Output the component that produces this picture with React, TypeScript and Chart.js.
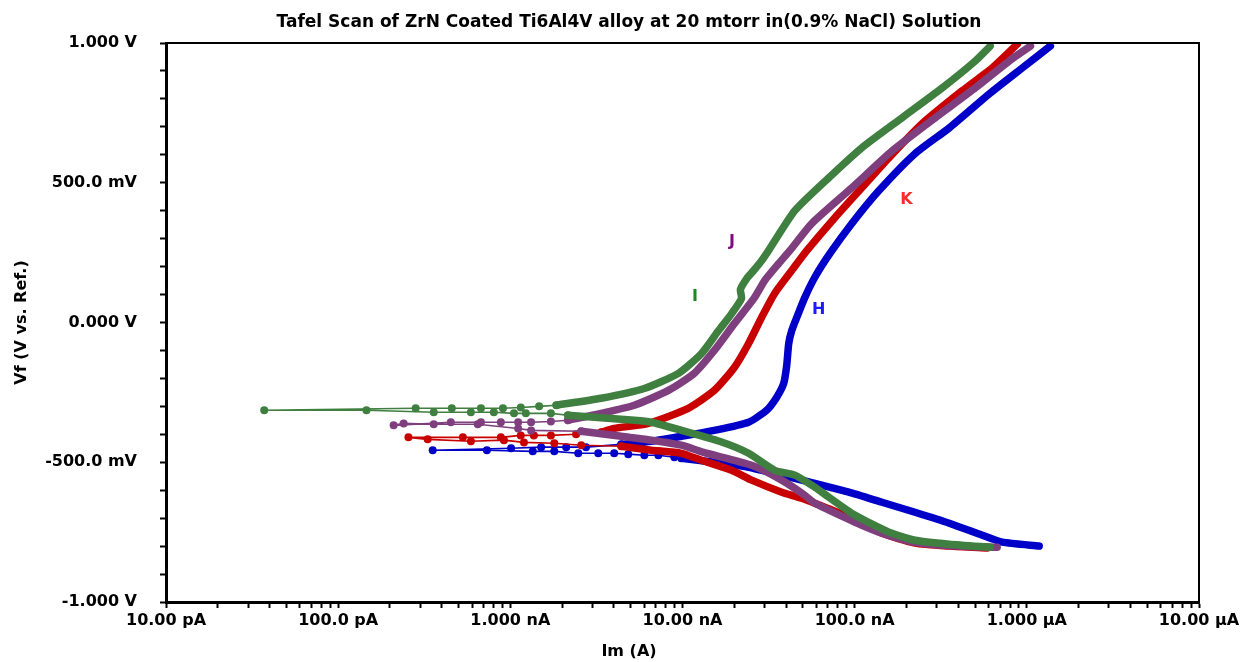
import React, { useEffect, useRef } from 'react';
import { Chart, registerables } from 'chart.js';

Chart.register(...registerables);

type P = [number, number]; // [current (A), potential (V)]

// ---------- Data ----------
// H (blue)
const hCathodic: P[] = [
  [1.18e-6, -0.8], [7.2e-7, -0.786], [5.51e-7, -0.761], [3.54e-7, -0.718], [2.24e-7, -0.679],
  [1.44e-7, -0.643], [9.25e-8, -0.607], [6.44e-8, -0.582], [4.93e-8, -0.564], [3.77e-8, -0.546],
  [2.42e-8, -0.518], [1.53e-8, -0.5], [9.86e-9, -0.486],
];
const hSparse: P[] = [
  [9.86e-9, -0.486], [8.97e-9, -0.482], [7.24e-9, -0.475], [6.0e-9, -0.475], [4.84e-9, -0.471],
  [4.01e-9, -0.468], [3.24e-9, -0.468], [2.48e-9, -0.468], [1.8e-9, -0.461], [1.35e-9, -0.461],
  [7.31e-10, -0.457], [3.54e-10, -0.457], [1.01e-9, -0.45], [1.51e-9, -0.446], [2.11e-9, -0.446],
  [2.75e-9, -0.446], [4.41e-9, -0.436],
];
const hAnodic: P[] = [
  [4.41e-9, -0.436], [6.59e-9, -0.425], [9.86e-9, -0.407], [1.53e-8, -0.386], [2.42e-8, -0.357],
  [3.08e-8, -0.314], [3.52e-8, -0.268], [3.87e-8, -0.218], [4.03e-8, -0.154], [4.14e-8, -0.075],
  [4.31e-8, -0.029], [4.61e-8, 0.018], [5.13e-8, 0.089], [5.86e-8, 0.161], [7.17e-8, 0.246],
  [9.63e-8, 0.354], [1.38e-7, 0.471], [2.24e-7, 0.604], [3.54e-7, 0.696], [6.05e-7, 0.818],
  [9.42e-7, 0.911], [1.37e-6, 0.989],
];

// K (red)
const kCathodic: P[] = [
  [5.89e-7, -0.807], [3.54e-7, -0.8], [2.24e-7, -0.789], [1.44e-7, -0.754], [9.63e-8, -0.7],
  [7.36e-8, -0.671], [4.93e-8, -0.629], [3.77e-8, -0.607], [2.52e-8, -0.564], [1.93e-8, -0.529],
  [1.29e-8, -0.493], [9.86e-9, -0.468], [6.59e-9, -0.457], [4.41e-9, -0.443],
];
const kSparse: P[] = [
  [4.41e-9, -0.443], [2.58e-9, -0.439], [1.8e-9, -0.432], [1.2e-9, -0.429], [9.18e-10, -0.421],
  [5.9e-10, -0.425], [3.31e-10, -0.418], [2.56e-10, -0.411], [5.3e-10, -0.411], [8.81e-10, -0.411],
  [1.15e-9, -0.404], [1.37e-9, -0.404], [1.72e-9, -0.404], [2.41e-9, -0.4], [3.37e-9, -0.393],
];
const kAnodic: P[] = [
  [3.37e-9, -0.393], [4.01e-9, -0.379], [6.33e-9, -0.361], [1.08e-8, -0.307], [1.53e-8, -0.243],
  [2.0e-8, -0.161], [2.42e-8, -0.075], [2.88e-8, 0.018], [3.43e-8, 0.104], [4.31e-8, 0.186],
  [5.27e-8, 0.257], [7.67e-8, 0.375], [1.1e-7, 0.482], [1.58e-7, 0.589], [2.46e-7, 0.711],
  [4.21e-7, 0.829], [6.3e-7, 0.911], [8.81e-7, 0.996],
];

// J (purple)
const jCathodic: P[] = [
  [6.73e-7, -0.804], [3.94e-7, -0.8], [2.24e-7, -0.786], [1.44e-7, -0.754], [1.0e-7, -0.714],
  [5.86e-8, -0.646], [5.13e-8, -0.618], [3.77e-8, -0.564], [2.52e-8, -0.511], [1.31e-8, -0.464],
  [9.86e-9, -0.439], [6.59e-9, -0.421], [4.41e-9, -0.407], [2.58e-9, -0.389],
];
const jSparse: P[] = [
  [2.58e-9, -0.389], [1.32e-9, -0.386], [1.11e-9, -0.379], [6.47e-10, -0.364], [3.59e-10, -0.364],
  [2.4e-10, -0.361], [2.1e-10, -0.368], [4.51e-10, -0.357], [6.75e-10, -0.357], [8.81e-10, -0.357],
  [1.11e-9, -0.357], [1.32e-9, -0.357], [1.72e-9, -0.354], [2.16e-9, -0.35],
];
const jAnodic: P[] = [
  [2.16e-9, -0.35], [3.37e-9, -0.325], [5.25e-9, -0.296], [8.28e-9, -0.243], [1.17e-8, -0.182],
  [1.53e-8, -0.1], [2.0e-8, -0.004], [2.62e-8, 0.089], [3.0e-8, 0.15], [3.62e-8, 0.211],
  [4.2e-8, 0.257], [5.63e-8, 0.354], [9.63e-8, 0.482], [1.65e-7, 0.614], [2.93e-7, 0.732],
  [5.01e-7, 0.839], [7.91e-7, 0.936], [1.05e-6, 0.989],
];

// I (green)
const iCathodic: P[] = [
  [6.13e-7, -0.804], [3.54e-7, -0.793], [2.24e-7, -0.779], [1.58e-7, -0.75], [1.0e-7, -0.689],
  [6.44e-8, -0.607], [5.86e-8, -0.589], [4.49e-8, -0.546], [3.43e-8, -0.529], [2.42e-8, -0.468],
  [1.64e-8, -0.425], [9.86e-9, -0.386], [6.59e-9, -0.357], [5.25e-9, -0.35], [2.16e-9, -0.332],
];
const iSparse: P[] = [
  [2.16e-9, -0.332], [1.72e-9, -0.325], [1.23e-9, -0.325], [1.05e-9, -0.325], [8.02e-10, -0.321],
  [5.9e-10, -0.321], [3.59e-10, -0.321], [1.46e-10, -0.314], [3.72e-11, -0.314], [2.82e-10, -0.307],
  [4.57e-10, -0.307], [6.75e-10, -0.307], [9.06e-10, -0.307], [1.15e-9, -0.304], [1.47e-9, -0.3],
  [1.85e-9, -0.296],
];
const iAnodic: P[] = [
  [1.85e-9, -0.296], [3.37e-9, -0.271], [6.0e-9, -0.236], [9.47e-9, -0.182], [1.29e-8, -0.111],
  [1.62e-8, -0.029], [1.93e-8, 0.032], [2.2e-8, 0.086], [2.17e-8, 0.118], [2.36e-8, 0.157],
  [2.59e-8, 0.186], [2.88e-8, 0.221], [3.16e-8, 0.257], [4.49e-8, 0.4], [7.08e-8, 0.518],
  [1.1e-7, 0.625], [1.88e-7, 0.732], [3.22e-7, 0.839], [4.94e-7, 0.932], [6.13e-7, 0.989],
];

// Curve labels (text + anchor in data units)
const labelTexts = ['K', 'J', 'I', 'H'];
const labelCurrents = [2.0e-7, 1.94e-8, 1.18e-8, 6.19e-8];
const labelVoltages = [0.438, 0.288, 0.091, 0.045];

// Axis ticks
const xTickLabels = ['10.00 pA', '100.0 pA', '1.000 nA', '10.00 nA', '100.0 nA', '1.000 µA', '10.00 µA'];
const yTickValues = [-1, -0.5, 0, 0.5, 1];
const yTickLabels = ['-1.000 V', '-500.0 mV', '0.000 V', '500.0 mV', '1.000 V'];

const TITLE = 'Tafel Scan of ZrN Coated Ti6Al4V alloy at 20 mtorr in(0.9% NaCl) Solution';
const X_TITLE = 'Im (A)';
const Y_TITLE = 'Vf (V vs. Ref.)';

// ---------- Styles ----------
const FONT = 'DejaVu Sans';
const COLORS = { H: '#0000c8', K: '#c80000', J: '#7f3f7f', I: '#3f7f3f' };
const LABEL_COLORS = ['#ff2a2a', '#800a80', '#1a8a1a', '#1a1aff'];

const toXY = (pts: P[]) => pts.map(([x, y]) => ({ x, y }));

function dense(pts: P[], color: string) {
  return {
    data: toXY(pts),
    showLine: true,
    borderColor: color,
    backgroundColor: color,
    borderWidth: 7.5,
    pointRadius: 0,
    pointHoverRadius: 0,
    tension: 0.2,
    borderCapStyle: 'round',
    borderJoinStyle: 'round',
  };
}

function sparse(pts: P[], color: string) {
  return {
    data: toXY(pts),
    showLine: true,
    borderColor: color,
    backgroundColor: color,
    borderWidth: 1.6,
    pointRadius: 4,
    pointBorderWidth: 0,
    pointBackgroundColor: color,
    tension: 0,
  };
}

function buildXTicks() {
  const vals: number[] = [];
  for (let e = -11; e <= -6; e++) {
    for (let m = 1; m <= 9; m++) vals.push(parseFloat((m * Math.pow(10, e)).toPrecision(3)));
  }
  vals.push(1e-5);
  return vals;
}

function buildYTicks() {
  const vals: number[] = [];
  for (let k = -10; k <= 10; k++) vals.push(k / 10);
  return vals;
}

const overlay = {
  id: 'overlay',
  afterDatasetsDraw(chart: any) {
    const { ctx, chartArea: a, scales } = chart;
    ctx.save();
    ctx.strokeStyle = '#000';
    ctx.lineWidth = 2;
    ctx.beginPath();
    ctx.moveTo(a.left, a.top);
    ctx.lineTo(a.right, a.top);
    ctx.lineTo(a.right, a.bottom);
    ctx.stroke();
    ctx.font = `bold 16px "${FONT}"`;
    ctx.textAlign = 'center';
    ctx.textBaseline = 'middle';
    labelTexts.forEach((t, i) => {
      ctx.fillStyle = LABEL_COLORS[i];
      ctx.fillText(t, scales.x.getPixelForValue(labelCurrents[i]), scales.y.getPixelForValue(labelVoltages[i]));
    });
    ctx.restore();
  },
  afterDraw(chart: any) {
    const { ctx } = chart;
    ctx.save();
    ctx.fillStyle = '#000';
    ctx.textAlign = 'center';
    ctx.textBaseline = 'alphabetic';
    ctx.font = `bold 17px "${FONT}"`;
    ctx.fillText(TITLE, 629, 27);
    ctx.font = `bold 16px "${FONT}"`;
    ctx.fillText(X_TITLE, 629, 656);
    ctx.restore();
  },
};

export default function App() {
  const ref = useRef<HTMLCanvasElement | null>(null);

  useEffect(() => {
    if (!ref.current) return;
    const xTicks = buildXTicks();
    const yTicks = buildYTicks();
    const tickFont = { family: FONT, size: 16, weight: 'bold' as const };

    const chart = new Chart(ref.current, {
      type: 'scatter',
      data: {
        datasets: [
          dense(iCathodic, COLORS.I), sparse(iSparse, COLORS.I), dense(iAnodic, COLORS.I),
          dense(jCathodic, COLORS.J), sparse(jSparse, COLORS.J), dense(jAnodic, COLORS.J),
          dense(kCathodic, COLORS.K), sparse(kSparse, COLORS.K), dense(kAnodic, COLORS.K),
          dense(hCathodic, COLORS.H), sparse(hSparse, COLORS.H), dense(hAnodic, COLORS.H),
        ] as any,
      },
      options: {
        animation: false,
        responsive: false,
        maintainAspectRatio: false,
        layout: { padding: { left: 0, top: 43, right: 46, bottom: 0 } },
        plugins: {
          legend: { display: false },
          tooltip: { enabled: false },
          title: { display: false },
        },
        scales: {
          x: {
            type: 'logarithmic',
            position: 'bottom',
            min: 1e-11,
            max: 1e-5,
            afterBuildTicks: (s: any) => {
              s.ticks = xTicks.map((v) => ({ value: v }));
            },
            afterFit: (s: any) => {
              s.height = 60;
            },
            ticks: {
              autoSkip: false,
              maxRotation: 0,
              minRotation: 0,
              padding: 3,
              color: '#000',
              font: tickFont,
              callback: (v: any) => {
                const e = Math.log10(Number(v));
                const r = Math.round(e);
                return Math.abs(e - r) < 1e-6 ? xTickLabels[r + 11] ?? '' : '';
              },
            },
            grid: {
              drawOnChartArea: false,
              drawTicks: true,
              tickLength: 6,
              tickWidth: 2,
              tickColor: '#000',
            },
            border: { display: true, color: '#000', width: 3 },
          },
          y: {
            type: 'linear',
            position: 'left',
            min: -1,
            max: 1,
            afterBuildTicks: (s: any) => {
              s.ticks = yTicks.map((v) => ({ value: v }));
            },
            afterFit: (s: any) => {
              s.width = 166;
            },
            ticks: {
              autoSkip: false,
              padding: 23,
              color: '#000',
              font: tickFont,
              callback: (v: any) => {
                const idx = yTickValues.findIndex((t) => Math.abs(t - Number(v)) < 1e-6);
                return idx >= 0 ? yTickLabels[idx] : '';
              },
            },
            grid: {
              drawOnChartArea: false,
              drawTicks: true,
              tickLength: 6,
              tickWidth: 2,
              tickColor: '#000',
            },
            border: { display: true, color: '#000', width: 3 },
            title: {
              display: true,
              text: Y_TITLE,
              color: '#000',
              font: { family: FONT, size: 16, weight: 'bold' },
              padding: { top: 12, bottom: 0 },
            },
          },
        },
      } as any,
      plugins: [overlay],
    });
    return () => chart.destroy();
  }, []);

  return (
    <div style={{ position: 'fixed', left: 0, top: 0, width: 1245, height: 662, background: '#fff' }}>
      <canvas ref={ref} width={1245} height={662} style={{ display: 'block', width: '1245px', height: '662px' }} />
    </div>
  );
}
